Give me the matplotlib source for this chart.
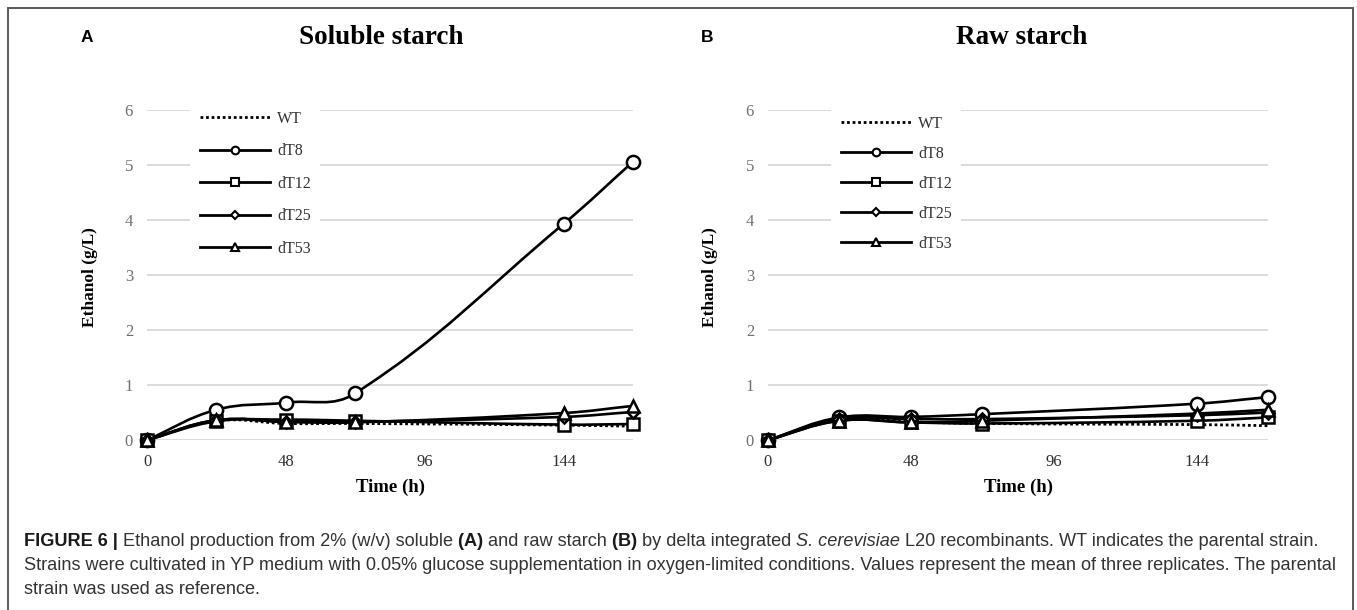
import numpy as np
import matplotlib
matplotlib.use('Agg')
import matplotlib.pyplot as plt
from matplotlib.path import Path
from matplotlib.patches import PathPatch, Rectangle
from matplotlib.lines import Line2D

plt.rcParams['font.family'] = ['Liberation Serif', 'DejaVu Serif']

# sampling times (h)
hours = [0, 24, 48, 72, 144, 168]
strains = ['WT', 'dT8', 'dT12', 'dT25', 'dT53']

# ethanol (g/L), soluble starch
soluble_wt = [0, 0.35, 0.30, 0.30, 0.27, 0.25]
soluble_dt8 = [0, 0.55, 0.68, 0.85, 3.93, 5.06]
soluble_dt12 = [0, 0.34, 0.37, 0.35, 0.28, 0.29]
soluble_dt25 = [0, 0.36, 0.33, 0.33, 0.42, 0.51]
soluble_dt53 = [0, 0.36, 0.33, 0.32, 0.49, 0.62]

# ethanol (g/L), raw starch
raw_wt = [0, 0.38, 0.33, 0.30, 0.28, 0.26]
raw_dt8 = [0, 0.41, 0.42, 0.47, 0.66, 0.78]
raw_dt12 = [0, 0.35, 0.32, 0.30, 0.35, 0.41]
raw_dt25 = [0, 0.38, 0.38, 0.38, 0.45, 0.50]
raw_dt53 = [0, 0.35, 0.32, 0.35, 0.48, 0.55]

W, H = 1357, 610
fig = plt.figure(figsize=(W / 100, H / 100), dpi=100)


def fx(px):
    return px / W


def fy(py):
    return 1 - py / H


# marker style per strain (None = dotted line, no marker)
markers = {'WT': None, 'dT8': 'o', 'dT12': 's', 'dT25': 'D', 'dT53': '^'}
msize = {'o': 9.5, 's': 8.5, 'D': 6.5, '^': 9}
lmsize = {'o': 5.5, 's': 5.5, 'D': 4.5, '^': 6}
dots = (0, (1, 1))


def smooth_path(x, y, sx, sy, k=0.8):
    # excel-like smoothed line: bezier through the points,
    # control arms scaled by chord length (measured in pixels)
    pts = np.column_stack([x, y]).astype(float)
    scale = np.array([sx, sy])
    n = len(pts)
    verts = [pts[0]]
    codes = [Path.MOVETO]

    def arm(a, b, c):
        # tangent at b using neighbours a and c
        la = np.hypot(*((b - a) * scale))
        lc = np.hypot(*((c - b) * scale))
        if la + lc == 0:
            return np.zeros(2)
        return (c - a) * k / 2 / (la + lc)

    for i in range(n - 1):
        p0 = pts[max(i - 1, 0)]
        p1 = pts[i]
        p2 = pts[i + 1]
        p3 = pts[min(i + 2, n - 1)]
        l12 = np.hypot(*((p2 - p1) * scale))
        c1 = p1 + arm(p0, p1, p2) * l12
        c2 = p2 - arm(p1, p2, p3) * l12
        verts += [c1, c2, p2]
        codes += [Path.CURVE4] * 3
    return Path(verts, codes)


def panel(left, right, series, title, title_x, letter, letter_x, ylab_x,
          leg_left, leg_top, leg_sp):
    ax = fig.add_axes([fx(left), fy(440), fx(right - left), (440 - 110) / H])
    ax.set_xlim(0, 168)
    ax.set_ylim(0, 6)
    ax.set_xticks([0, 48, 96, 144])
    ax.set_yticks(range(7))
    ax.grid(axis='y', color='#d9d9d9', lw=1.3)
    ax.set_axisbelow(True)
    for s in ax.spines.values():
        s.set_visible(False)
    ax.tick_params(length=0, labelsize=12, pad=10)
    ax.tick_params(axis='y', labelcolor='#707070', pad=10)
    ax.tick_params(axis='x', labelcolor='#303030')

    sx = (right - left) / 168
    sy = 55
    for name, vals in zip(strains, series):
        m = markers[name]
        p = smooth_path(hours, vals, sx, sy)
        if m is None:
            ax.add_patch(PathPatch(p, fc='none', ec='black', lw=2, ls=dots,
                                   zorder=2, clip_on=False))
        else:
            ax.add_patch(PathPatch(p, fc='none', ec='black', lw=1.9,
                                   zorder=2, clip_on=False))
            ax.plot(hours, vals, ls='none', marker=m, ms=msize[m], mfc='white',
                    mec='black', mew=1.8, zorder=3, clip_on=False)

    handles = []
    for name in strains:
        m = markers[name]
        if m is None:
            handles.append(Line2D([], [], color='black', lw=2, ls=dots))
        else:
            handles.append(Line2D([], [], color='black', lw=2, marker=m, ms=lmsize[m],
                                  mfc='white', mec='black', mew=1.5))
    ax.legend(handles, strains, loc='upper left',
              bbox_to_anchor=(fx(leg_left), fy(leg_top)), bbox_transform=fig.transFigure,
              borderaxespad=0, borderpad=0.6, frameon=True, facecolor='white',
              edgecolor='none', framealpha=1, fancybox=False, fontsize=11.5,
              handlelength=4.4, handletextpad=0.45, labelspacing=leg_sp,
              labelcolor='#333333')

    mid = (left + right) / 2
    fig.text(fx(title_x), fy(38), title, ha='center', va='center',
             fontsize=19.5, fontweight='bold')
    fig.text(fx(letter_x), fy(37), letter, ha='center', va='center',
             fontsize=12.5, fontweight='bold', family=['Liberation Sans'])
    fig.text(fx(ylab_x), fy(277), 'Ethanol (g/L)', rotation=90, ha='center', va='center',
             fontsize=12.5, fontweight='bold')
    fig.text(fx(mid), fy(487), 'Time (h)', ha='center', va='center',
             fontsize=13.5, fontweight='bold')
    return ax


panel(147, 633, [soluble_wt, soluble_dt8, soluble_dt12, soluble_dt25, soluble_dt53],
      'Soluble starch', 381, 'A', 87, 90, 190, 101, 1.04)
panel(768, 1268, [raw_wt, raw_dt8, raw_dt12, raw_dt25, raw_dt53],
      'Raw starch', 1022, 'B', 707, 710, 831, 106, 0.88)

# frame around figure
fig.add_artist(Rectangle((fx(8), fy(640)), fx(1353 - 8), (640 - 8) / H,
                         transform=fig.transFigure, fill=False, ec='#5a5a5a', lw=1.4))

# caption with mixed styles
fig.canvas.draw()
rend = fig.canvas.get_renderer()
cap_font = ['Liberation Sans', 'DejaVu Sans']
cap_size = 13.1


def caption_line(x, y, runs):
    for txt, style in runs:
        kw = dict(fontsize=cap_size, family=cap_font, color='#333333')
        if style == 'b':
            kw.update(fontweight='bold', color='#1a1a1a')
        elif style == 'i':
            kw.update(fontstyle='italic')
        t = fig.text(fx(x), fy(y), txt, ha='left', va='center', **kw)
        x += t.get_window_extent(renderer=rend).width


caption_line(24, 541, [
    ('FIGURE 6 |', 'b'),
    (' Ethanol production from 2% (w/v) soluble', 'n'),
    (' (A)', 'b'),
    (' and raw starch', 'n'),
    (' (B)', 'b'),
    (' by delta integrated', 'n'),
    (' S. cerevisiae', 'i'),
    (' L20 recombinants. WT indicates the parental strain.', 'n'),
])
caption_line(24, 566, [
    ('Strains were cultivated in YP medium with 0.05% glucose supplementation in '
     'oxygen-limited conditions. Values represent the mean of three replicates. The parental', 'n'),
])
caption_line(24, 590, [('strain was used as reference.', 'n')])

fig.savefig('out.png', dpi=100)
